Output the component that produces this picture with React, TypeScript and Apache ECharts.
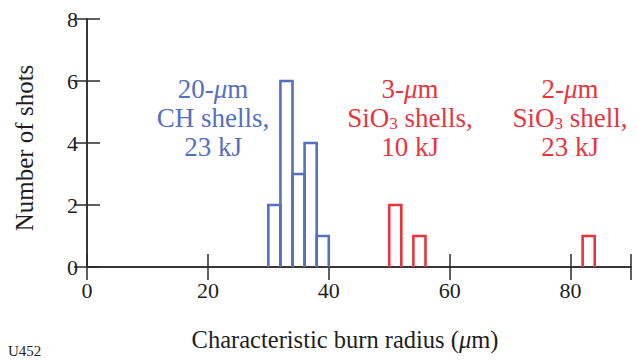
import React, { useEffect, useRef } from "react";
import * as echarts from "echarts";

// Burn-radius histogram bins (µm, left edge) and shot counts per target type
const binWidth = 2;
const chBinStarts = [30, 32, 34, 36, 38];
const chCounts = [2, 6, 3, 4, 1];
const sio3TenBinStarts = [50, 54];
const sio3TenCounts = [2, 1];
const sio3TwentyThreeBinStarts = [82];
const sio3TwentyThreeCounts = [1];

const xLabelMax = 80;

const BLUE = "#5670C0";
const RED = "#E8353F";
const AXIS = "#2b2b2b";
const INK = "#1e1e1e";
const SERIF = "Liberation Serif";
const NOTE_LINE = 29;

const toRows = (starts: number[], counts: number[]) =>
  starts.map((s, i) => [s, s + binWidth, counts[i]]);

const histSeries = (name: string, rows: number[][], color: string) => ({
  name,
  type: "custom",
  xAxisIndex: 0,
  yAxisIndex: 0,
  encode: { x: [0, 1], y: 2 },
  data: rows,
  z: 3,
  renderItem: (_params: any, api: any) => {
    const lo = api.coord([api.value(0), 0]);
    const hi = api.coord([api.value(1), api.value(2)]);
    return {
      type: "polyline",
      shape: {
        points: [
          [lo[0], lo[1]],
          [lo[0], hi[1]],
          [hi[0], hi[1]],
          [hi[0], lo[1]],
        ],
      },
      style: { fill: "none", stroke: color, lineWidth: 2.6 },
    };
  },
});

const tok = (size: number, color: string, extra: any = {}) => ({
  fontFamily: SERIF,
  fontSize: size,
  fontStyle: "normal",
  fill: color,
  lineHeight: NOTE_LINE,
  ...extra,
});

const annotation = (x: number, y: number, text: string, color: string) => ({
  type: "text",
  x,
  y,
  style: {
    text,
    fill: color,
    fontFamily: SERIF,
    fontSize: 27,
    lineHeight: NOTE_LINE,
    align: "center",
    verticalAlign: "middle",
    rich: {
      n: tok(27, color),
      i: tok(27, color, { fontStyle: "italic" }),
      s: tok(17, color, { padding: [10, 0, 0, 0] }),
    },
  },
});

const baseX = (position: "bottom" | "top", showLabels: boolean) => ({
  type: "value",
  position,
  min: 0,
  max: 90,
  interval: 20,
  axisLine: { show: true, lineStyle: { color: AXIS, width: 1.5 } },
  axisTick: { show: true, inside: true, length: 13, lineStyle: { color: AXIS, width: 1.5 } },
  splitLine: { show: false },
  axisLabel: {
    show: showLabels,
    margin: 12,
    fontFamily: SERIF,
    fontSize: 22,
    color: INK,
    formatter: (v: number) => (v > xLabelMax ? "" : String(v)),
  },
});

const baseY = (position: "left" | "right", showLabels: boolean) => ({
  type: "value",
  position,
  min: 0,
  max: 8,
  interval: 2,
  axisLine: { show: true, lineStyle: { color: AXIS, width: 1.5 } },
  axisTick: { show: true, inside: true, length: 13, lineStyle: { color: AXIS, width: 1.5 } },
  splitLine: { show: false },
  axisLabel: {
    show: showLabels,
    margin: 9,
    fontFamily: SERIF,
    fontSize: 22,
    color: INK,
  },
});

export default function App() {
  const ref = useRef<HTMLDivElement>(null);

  useEffect(() => {
    if (!ref.current) return;
    const chart = echarts.init(ref.current, undefined, { renderer: "svg" });
    chart.setOption({
      animation: false,
      backgroundColor: "#ffffff",
      textStyle: { fontFamily: SERIF },
      grid: { left: 87, right: 8, top: 19, bottom: 93, containLabel: false },
      xAxis: [
        {
          ...baseX("bottom", true),
          name: "Characteristic burn radius ({i|μ}m)",
          nameLocation: "middle",
          nameGap: 60,
          nameTextStyle: {
            fontFamily: SERIF,
            fontSize: 24.5,
            color: INK,
            padding: [0, 28, 0, 0],
            rich: {
              i: { fontFamily: SERIF, fontSize: 24.5, fontStyle: "italic", color: INK },
            },
          },
        },
        baseX("top", false),
      ],
      yAxis: [
        {
          ...baseY("left", true),
          name: "Number of shots",
          nameLocation: "middle",
          nameGap: 50,
          nameTextStyle: {
            fontFamily: SERIF,
            fontSize: 25,
            color: INK,
            padding: [0, 10, 0, 0],
          },
        },
        baseY("right", false),
      ],
      series: [
        histSeries("20-µm CH shells, 23 kJ", toRows(chBinStarts, chCounts), BLUE),
        histSeries("3-µm SiO3 shells, 10 kJ", toRows(sio3TenBinStarts, sio3TenCounts), RED),
        histSeries(
          "2-µm SiO3 shell, 23 kJ",
          toRows(sio3TwentyThreeBinStarts, sio3TwentyThreeCounts),
          RED
        ),
      ],
      graphic: [
        annotation(213, 118, "{n|20-}{i|μ}{n|m}\n{n|CH shells,}\n{n|23 kJ}", BLUE),
        annotation(410, 118, "{n|3-}{i|μ}{n|m}\n{n|SiO}{s|3}{n| shells,}\n{n|10 kJ}", RED),
        annotation(570, 118, "{n|2-}{i|μ}{n|m}\n{n|SiO}{s|3}{n| shell,}\n{n|23 kJ}", RED),
        {
          type: "text",
          left: 8,
          top: 343,
          style: { text: "U452", fontFamily: SERIF, fontSize: 15, fill: INK },
        },
      ],
    });
    return () => chart.dispose();
  }, []);

  return (
    <div
      ref={ref}
      style={{ position: "absolute", left: 0, top: 0, width: 639, height: 360 }}
    />
  );
}
